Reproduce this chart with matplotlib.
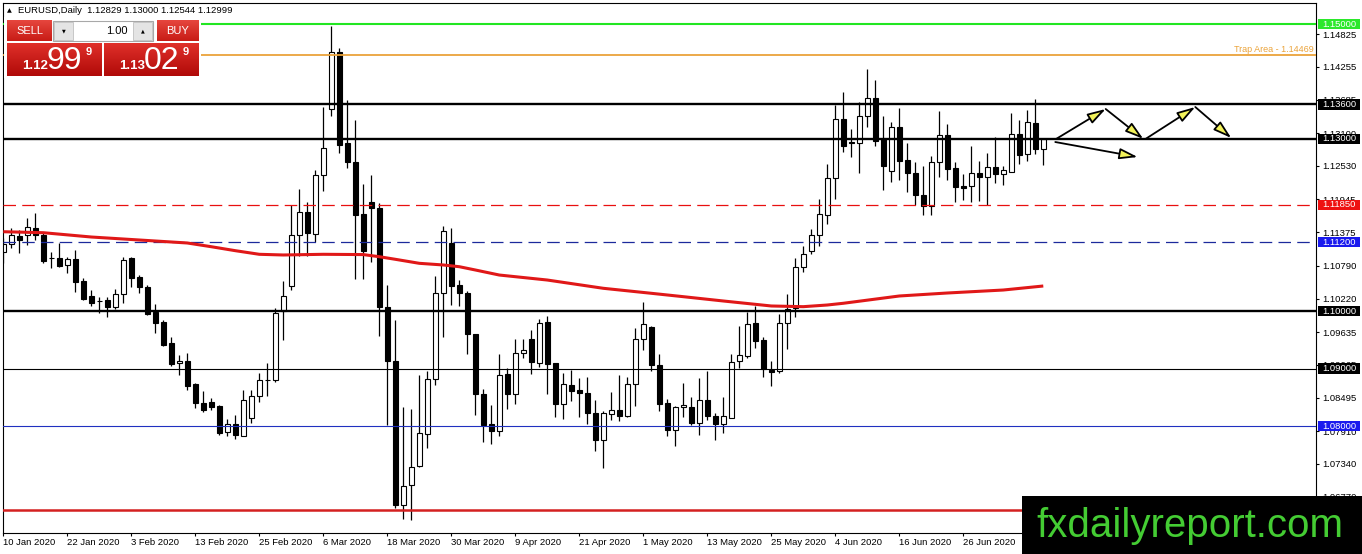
import numpy as np
import pandas as pd
import matplotlib
matplotlib.use('Agg')
import matplotlib.pyplot as plt
import matplotlib.transforms as mtransforms
from matplotlib.patches import Rectangle, FancyArrowPatch
from matplotlib.colors import LinearSegmentedColormap

plt.rcParams['font.family'] = ['Liberation Sans', 'DejaVu Sans']

# EURUSD daily candles, 10 Jan 2020 .. 10 Jul 2020
opens = [1.1103, 1.1117, 1.1131, 1.1133, 1.1145, 1.1133, 1.1093, 1.1093, 1.1080, 1.1091,
         1.1053, 1.1026, 1.1018, 1.1019, 1.1007, 1.1030, 1.1093, 1.1060, 1.1042, 1.0999,
         1.0981, 1.0945, 1.0910, 1.0913, 1.0873, 1.0840, 1.0842, 1.0835, 1.0790, 1.0804,
         1.0783, 1.0814, 1.0852, 1.0880, 1.0880, 1.1001, 1.1044, 1.1133, 1.1172, 1.1134,
         1.1237, 1.1352, 1.1452, 1.1293, 1.1259, 1.1169, 1.1190, 1.1179, 1.1008, 1.0914,
         1.0663, 1.0698, 1.0730, 1.0786, 1.0882, 1.1032, 1.1119, 1.1045, 1.1032, 1.0961,
         1.0856, 1.0803, 1.0791, 1.0890, 1.0856, 1.0927, 1.0951, 1.0910, 1.0981, 1.0909,
         1.0839, 1.0872, 1.0862, 1.0858, 1.0823, 1.0775, 1.0821, 1.0828, 1.0817, 1.0873,
         1.0952, 1.0972, 1.0907, 1.0840, 1.0793, 1.0833, 1.0833, 1.0806, 1.0845, 1.0817,
         1.0804, 1.0814, 1.0913, 1.0922, 1.0979, 1.0949, 1.0897, 1.0896, 1.0980, 1.1006,
         1.1077, 1.1104, 1.1133, 1.1168, 1.1231, 1.1335, 1.1294, 1.1292, 1.1339, 1.1372,
         1.1299, 1.1244, 1.1321, 1.1263, 1.1241, 1.1203, 1.1183, 1.1259, 1.1307, 1.1249,
         1.1218, 1.1218, 1.1240, 1.1233, 1.1251, 1.1239, 1.1243, 1.1309, 1.1274, 1.1328,
         1.12829]
highs = [1.1127, 1.1145, 1.1141, 1.1162, 1.1171, 1.1138, 1.1103, 1.1119, 1.1094, 1.1107,
         1.1058, 1.1037, 1.1025, 1.1025, 1.1039, 1.1094, 1.1094, 1.1063, 1.1046, 1.1013,
         1.0985, 1.0955, 1.0924, 1.0927, 1.0875, 1.0861, 1.0849, 1.0837, 1.0812, 1.0819,
         1.0863, 1.0863, 1.0892, 1.0910, 1.1006, 1.1053, 1.1184, 1.1213, 1.1190, 1.1245,
         1.1355, 1.1496, 1.1458, 1.1367, 1.1333, 1.1221, 1.1237, 1.1188, 1.1046, 1.0984,
         1.0833, 1.0830, 1.0889, 1.0895, 1.1061, 1.1148, 1.1144, 1.1054, 1.1035, 1.0961,
         1.0864, 1.0836, 1.0926, 1.0901, 1.0952, 1.0952, 1.0967, 1.0987, 1.0991, 1.0910,
         1.0893, 1.0897, 1.0884, 1.0885, 1.0845, 1.0826, 1.0860, 1.0888, 1.0886, 1.0971,
         1.1016, 1.0974, 1.0926, 1.0847, 1.0835, 1.0875, 1.0851, 1.0884, 1.0896, 1.0823,
         1.0851, 1.0926, 1.0975, 1.0998, 1.1009, 1.0955, 1.0913, 1.0995, 1.1029, 1.1093,
         1.1114, 1.1143, 1.1195, 1.1257, 1.1359, 1.1382, 1.1318, 1.1364, 1.1421, 1.1402,
         1.1339, 1.1330, 1.1353, 1.1292, 1.1260, 1.1253, 1.1270, 1.1349, 1.1326, 1.1259,
         1.1239, 1.1287, 1.1262, 1.1275, 1.1303, 1.1252, 1.1345, 1.1332, 1.1350, 1.1370,
         1.13000]
lows = [1.1084, 1.1110, 1.1101, 1.1115, 1.1124, 1.1084, 1.1075, 1.1077, 1.1066, 1.1033,
        1.1019, 1.1009, 1.0997, 1.0990, 1.1004, 1.1014, 1.1042, 1.1032, 1.0993, 1.0962,
        1.0939, 1.0905, 1.0889, 1.0863, 1.0831, 1.0824, 1.0828, 1.0784, 1.0783, 1.0777,
        1.0783, 1.0805, 1.0842, 1.0852, 1.0877, 1.0950, 1.1036, 1.1096, 1.1096, 1.1120,
        1.1210, 1.1339, 1.1275, 1.1250, 1.1056, 1.1056, 1.1085, 1.0956, 1.0802, 1.0657,
        1.0638, 1.0637, 1.0728, 1.0761, 1.0872, 1.0955, 1.1010, 1.1009, 1.0926, 1.0820,
        1.0772, 1.0768, 1.0782, 1.0829, 1.0839, 1.0919, 1.0891, 1.0903, 1.0855, 1.0816,
        1.0813, 1.0843, 1.0815, 1.0803, 1.0756, 1.0727, 1.0811, 1.0809, 1.0815, 1.0835,
        1.0933, 1.0896, 1.0826, 1.0782, 1.0766, 1.0816, 1.0801, 1.0785, 1.0810, 1.0775,
        1.0788, 1.0814, 1.0901, 1.0919, 1.0935, 1.0886, 1.0869, 1.0893, 1.0934, 1.0990,
        1.1068, 1.1099, 1.1113, 1.1151, 1.1195, 1.1277, 1.1268, 1.1240, 1.1321, 1.1288,
        1.1211, 1.1225, 1.1229, 1.1207, 1.1185, 1.1168, 1.1168, 1.1233, 1.1229, 1.1190,
        1.1194, 1.1190, 1.1191, 1.1184, 1.1223, 1.1219, 1.1242, 1.1256, 1.1261, 1.1274,
        1.12544]
closes = [1.1117, 1.1133, 1.1124, 1.1147, 1.1133, 1.1087, 1.1093, 1.1079, 1.1091, 1.1051,
          1.1021, 1.1014, 1.1018, 1.1007, 1.1030, 1.1089, 1.1058, 1.1042, 1.0995, 1.0979,
          1.0941, 1.0908, 1.0913, 1.0870, 1.0840, 1.0828, 1.0833, 1.0788, 1.0804, 1.0784,
          1.0846, 1.0852, 1.0880, 1.0880, 1.0997, 1.1026, 1.1133, 1.1172, 1.1136, 1.1237,
          1.1284, 1.1452, 1.1290, 1.1259, 1.1168, 1.1104, 1.1179, 1.1008, 1.0914, 1.0663,
          1.0695, 1.0728, 1.0787, 1.0882, 1.1032, 1.1140, 1.1044, 1.1032, 1.0961, 1.0856,
          1.0801, 1.0791, 1.0889, 1.0855, 1.0927, 1.0933, 1.0911, 1.0980, 1.0908, 1.0838,
          1.0873, 1.0861, 1.0858, 1.0823, 1.0775, 1.0823, 1.0828, 1.0817, 1.0873, 1.0952,
          1.0977, 1.0906, 1.0838, 1.0793, 1.0833, 1.0837, 1.0806, 1.0845, 1.0818, 1.0804,
          1.0817, 1.0912, 1.0923, 1.0977, 1.0948, 1.0900, 1.0894, 1.0980, 1.1004, 1.1077,
          1.1099, 1.1133, 1.1169, 1.1232, 1.1335, 1.1288, 1.1292, 1.1339, 1.1372, 1.1297,
          1.1253, 1.1321, 1.1262, 1.1241, 1.1203, 1.1183, 1.1259, 1.1307, 1.1248, 1.1216,
          1.1215, 1.1240, 1.1233, 1.1251, 1.1239, 1.1246, 1.1308, 1.1272, 1.1329, 1.1283,
          1.12999]

# moving average (red curve), read at some bars
ma_idx = [0, 5, 11, 17, 23, 26, 29, 32, 35, 40, 45, 47, 49, 52, 55, 57, 59, 62, 68,
          75, 81, 85, 90, 96, 100, 103, 105, 112, 118, 125, 130]
ma_val = [1.11383, 1.11366, 1.11291, 1.11239, 1.11187, 1.11122, 1.11053, 1.10990, 1.10978,
          1.10990, 1.10985, 1.10948, 1.10903, 1.10833, 1.10804, 1.10774, 1.10717,
          1.10629, 1.10542, 1.10398, 1.10311, 1.10252, 1.10177, 1.10090, 1.10078, 1.10107,
          1.10137, 1.10264, 1.10316, 1.10368, 1.10438]

# horizontal levels
lvl_price = [1.15, 1.14469, 1.136, 1.13, 1.1185, 1.112, 1.10, 1.09, 1.08, 1.0653]
lvl_color = ['#22e622', '#eba33a', 'black', 'black', '#e81010', '#1c2a9c', 'black', 'black', '#2030c0', '#d42020']
lvl_width = [1.5, 1.3, 1.7, 1.7, 0.9, 0.9, 1.7, 0.8, 0.8, 1.8]
lvl_style = ['-', '-', '-', '-', (0, (10, 5)), (0, (10, 5)), '-', '-', '-', '-']

# price boxes on the right scale
box_price = [1.15, 1.136, 1.13, 1.1185, 1.112, 1.10, 1.09, 1.08]
box_color = ['#2be82b', 'black', 'black', '#ee1111', '#1a1aee', 'black', 'black', '#1a1aee']

ytick_vals = [1.14825, 1.14255, 1.13685, 1.13100, 1.12530, 1.11945, 1.11375, 1.10790,
              1.10220, 1.09635, 1.09065, 1.08495, 1.07910, 1.07340, 1.06770]

# arrows drawn on chart (bar index, price)
arrows = [((131.6, 1.12998), (137.8, 1.13520)),
          ((137.8, 1.13520), (142.5, 1.13000)),
          ((142.8, 1.13000), (149.0, 1.13555)),
          ((149.0, 1.13555), (153.5, 1.13015)),
          ((131.5, 1.12945), (141.8, 1.12684))]

dates = pd.bdate_range('2020-01-10', periods=len(opens))

W, H = 1362, 554
fig = plt.figure(figsize=(W / 100, H / 100), dpi=100)
fig.patch.set_facecolor('white')
ax = fig.add_axes([2.7 / W, (H - 533) / H, (1316 - 2.7) / W, (533 - 2.7) / H])
ax.set_xlim(-0.075, 164.09)
ax.set_ylim(1.06137, 1.15371)

x = np.arange(len(opens))
o = np.array(opens); c = np.array(closes); h = np.array(highs); l = np.array(lows)
up = c >= o

# candles
ax.vlines(x, l, h, color='black', lw=0.9, zorder=2)
bot = np.minimum(o, c)
hgt = np.maximum(np.abs(c - o), 0.00004)
ax.bar(x[up], hgt[up], bottom=bot[up], width=0.6, color='white', edgecolor='black', lw=0.8, zorder=2.2)
ax.bar(x[~up], hgt[~up], bottom=bot[~up], width=0.6, color='black', edgecolor='black', lw=0.8, zorder=2.2)

# levels
for p, col, lw, ls in zip(lvl_price, lvl_color, lvl_width, lvl_style):
    ax.axhline(p, color=col, lw=lw, ls=ls, zorder=3)
ax.text(0.9985, 1.14469 + 0.0001, 'Trap Area - 1.14469', transform=mtransforms.blended_transform_factory(ax.transAxes, ax.transData),
        ha='right', va='bottom', fontsize=6.5, color='#eba33a', zorder=4)

# moving average
ax.plot(ma_idx, ma_val, color='#e01818', lw=2.2, zorder=4, solid_capstyle='butt')

# arrows
for (p0, p1) in arrows:
    ar = FancyArrowPatch(p0, p1, arrowstyle='-|>,head_length=11,head_width=3.3',
                         mutation_scale=1, shrinkA=0, shrinkB=0, lw=1.3,
                         edgecolor='black', facecolor='#f2f25a', zorder=6)
    ax.add_patch(ar)

# axes / ticks
for s in ax.spines.values():
    s.set_color('black'); s.set_linewidth(0.8)
ax.yaxis.tick_right()
ax.set_yticks(ytick_vals)
ax.set_yticklabels(['%.5f' % v for v in ytick_vals])
ax.tick_params(axis='y', direction='out', length=2.5, width=0.8, pad=2, labelsize=6.8, colors='black')
tick_pos = list(range(0, 121, 8))
tick_lab = [f"{dates[i].day} {dates[i].strftime('%b %Y')}" for i in tick_pos]
ax.set_xticks(tick_pos)
ax.set_xticklabels(tick_lab, ha='left')
ax.tick_params(axis='x', direction='out', length=2.2, width=0.8, pad=1.5, labelsize=6.8)

# coloured price boxes on the scale
bt = mtransforms.blended_transform_factory(ax.transAxes, ax.transData)
bw = 42 / (1316 - 2.7)
bh = 10.5 / 5743
for p, col in zip(box_price, box_color):
    ax.add_patch(Rectangle((1.0012, p - bh / 2), bw, bh, transform=bt, facecolor=col,
                           edgecolor='none', clip_on=False, zorder=5))
    ax.text(1.0045, p, '%.5f' % p, transform=bt, ha='left', va='center', fontsize=6.8,
            color='white', clip_on=False, zorder=6)

# overlay in pixel coordinates: header, trade panel, watermark
ov = fig.add_axes([0, 0, 1, 1], zorder=5)
ov.patch.set_visible(False)
ov.axis('off')

ov.text(9.5, 10.5, '\u25B2', fontsize=4.5, ha='center', va='center', family='DejaVu Sans')
ov.text(18, 10.5, 'EURUSD,Daily  1.12829 1.13000 1.12544 1.12999', fontsize=6.8, ha='left', va='center')

ov.add_patch(Rectangle((3.5, 17), 197, 61, facecolor='white', edgecolor='none', zorder=1))


def grad_box(x0, y0, x1, y1, top, bottom):
    cm = LinearSegmentedColormap.from_list('g', [top, bottom])
    ov.imshow(np.linspace(0, 1, 64).reshape(-1, 1), cmap=cm, extent=(x0, x1, y1, y0),
              aspect='auto', zorder=2, interpolation='bilinear')


grad_box(7, 21, 52, 41.5, '#e6463e', '#c81c16')
grad_box(157, 21, 199, 41.5, '#e6463e', '#c81c16')
grad_box(7, 43, 102, 76, '#e0302a', '#b00a08')
grad_box(104, 43, 199, 76, '#e0302a', '#b00a08')
ov.text(29.5, 31, 'SELL', color='white', fontsize=8, ha='center', va='center', zorder=3)
ov.text(178, 31, 'BUY', color='white', fontsize=8, ha='center', va='center', zorder=3)

# lot spinner
ov.add_patch(Rectangle((53, 21), 100, 20, facecolor='white', edgecolor='#a8a8a8', lw=0.8, zorder=2))
ov.add_patch(Rectangle((54, 22), 19, 18, facecolor='#e4e4e4', edgecolor='#c0c0c0', lw=0.6, zorder=3))
ov.add_patch(Rectangle((133, 22), 19, 18, facecolor='#e4e4e4', edgecolor='#c0c0c0', lw=0.6, zorder=3))
ov.text(63.5, 31, '\u25BC', fontsize=3.5, ha='center', va='center', family='DejaVu Sans', zorder=4)
ov.text(142.5, 31, '\u25B2', fontsize=3.5, ha='center', va='center', family='DejaVu Sans', zorder=4)
ov.text(128, 31, '1.00', fontsize=8, ha='right', va='center', zorder=4)

# bid / ask
for (x0, small, big) in [(22, '1.12', '99'), (119, '1.13', '02')]:
    ov.text(x0, 69, small, color='white', fontsize=9.5, fontweight='bold', ha='left', va='baseline', zorder=4)
    ov.text(x0 + 25, 69, big, color='white', fontsize=23, ha='left', va='baseline', zorder=4)
    ov.text(x0 + 64, 55, '9', color='white', fontsize=8, fontweight='bold', ha='left', va='baseline', zorder=4)

# watermark
ov.add_patch(Rectangle((1022, 496), W - 1022, H - 496, facecolor='black', edgecolor='none', zorder=5))
ov.text(1190, 537, 'fxdailyreport.com', color='#44cc33', fontsize=29, ha='center', va='baseline', zorder=6)

ov.set_xlim(0, W)
ov.set_ylim(H, 0)

fig.savefig('out.png', dpi=100)
